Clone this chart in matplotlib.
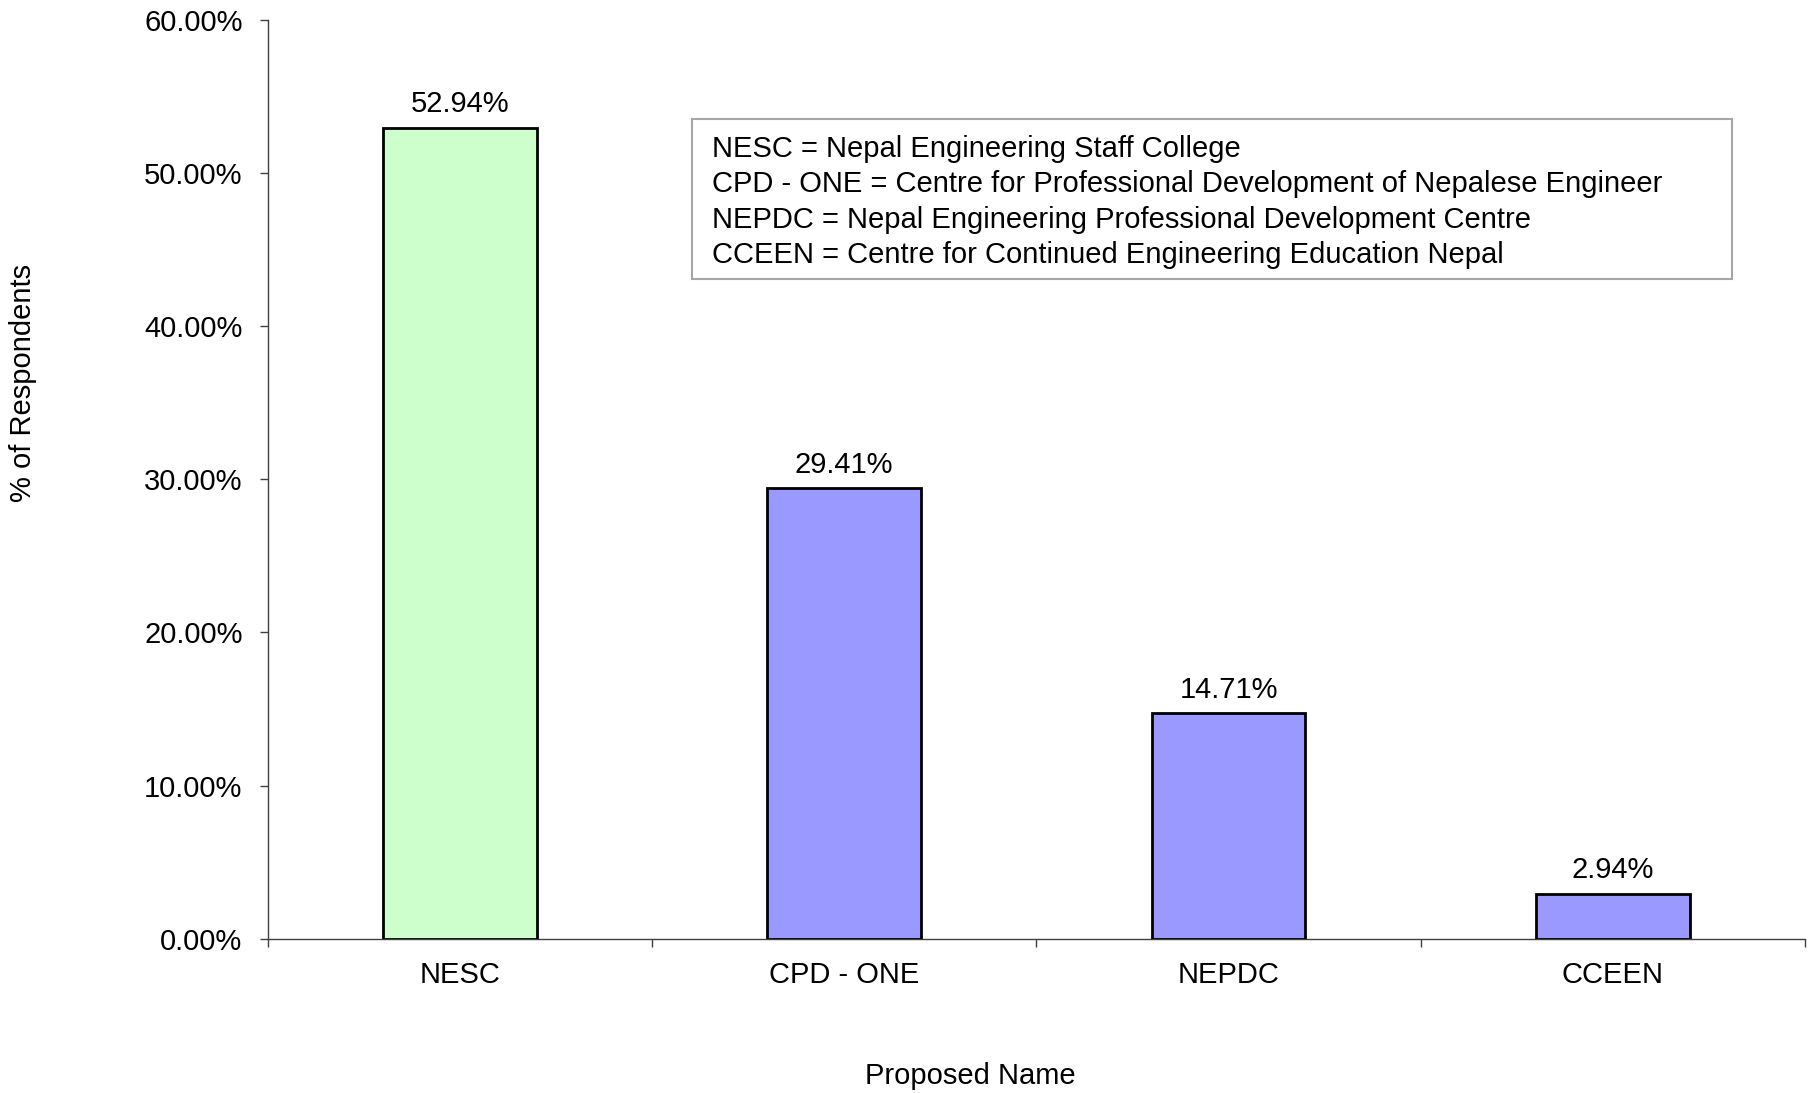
import numpy as np
import matplotlib
matplotlib.use("Agg")
import matplotlib.pyplot as plt

plt.rcParams['font.family'] = ['Liberation Sans', 'DejaVu Sans']

categories = ['NESC', 'CPD - ONE', 'NEPDC', 'CCEEN']
values = [52.94, 29.41, 14.71, 2.94]
bar_colors = ['#CCFFCC', '#9999FF', '#9999FF', '#9999FF']
y_ticks = [0, 10, 20, 30, 40, 50, 60]
legend_lines = [
    'NESC = Nepal Engineering Staff College',
    'CPD - ONE = Centre for Professional Development of Nepalese Engineer',
    'NEPDC = Nepal Engineering Professional Development Centre',
    'CCEEN = Centre for Continued Engineering Education Nepal',
]

fs = 21

fig = plt.figure(figsize=(18.18, 10.93), dpi=100)
ax = fig.add_axes([0.1472, 0.1412, 0.9929 - 0.1472, 0.9817 - 0.1412])

x = np.arange(len(categories))
bars = ax.bar(x, values, width=0.4, color=bar_colors, edgecolor='black', linewidth=2.0, zorder=3)

for xi, v in zip(x, values):
    ax.annotate(f'{v:.2f}%', (xi, v), xytext=(0, 7), textcoords='offset points',
                ha='center', va='bottom', fontsize=fs)

ax.set_xlim(-0.5, len(categories) - 0.5)
ax.set_ylim(0, 60)
ax.set_yticks(y_ticks)
ax.set_yticklabels([f'{t:.2f}%' for t in y_ticks], fontsize=fs)
ax.set_xticks(x)
ax.set_xticklabels(categories, fontsize=fs)
ax.set_xticks(np.arange(-0.5, len(categories)), minor=True)
ax.tick_params(axis='x', which='major', length=0, pad=16)
ax.tick_params(axis='x', which='minor', length=6, width=1, color='#404040', direction='out')
ax.tick_params(axis='y', length=6, width=1, color='#404040', direction='out', pad=12)

for s in ['top', 'right']:
    ax.spines[s].set_visible(False)
for s in ['left', 'bottom']:
    ax.spines[s].set_color('#404040')
    ax.spines[s].set_linewidth(1)

# definitions box
box_l, box_r = 692 / 1818, 1732 / 1818
box_t, box_b = 1 - 119 / 1093, 1 - 279 / 1093
fig.patches.append(plt.Rectangle((box_l, box_b), box_r - box_l, box_t - box_b,
                                 transform=fig.transFigure, facecolor='white',
                                 edgecolor='#A6A6A6', linewidth=1.5, zorder=5))
line_gap = 35.4 / 1093
for i, line in enumerate(legend_lines):
    fig.text(712 / 1818, 1 - 149 / 1093 - i * line_gap, line, fontsize=fs,
             ha='left', va='center', zorder=6)

fig.text(23 / 1818, 1 - 383 / 1093, '% of Respondents', rotation=90,
         ha='center', va='center', fontsize=fs)
fig.text(970 / 1818, 1 - 1076 / 1093, 'Proposed Name', ha='center', va='center', fontsize=fs)

fig.savefig('out.png', dpi=100)
